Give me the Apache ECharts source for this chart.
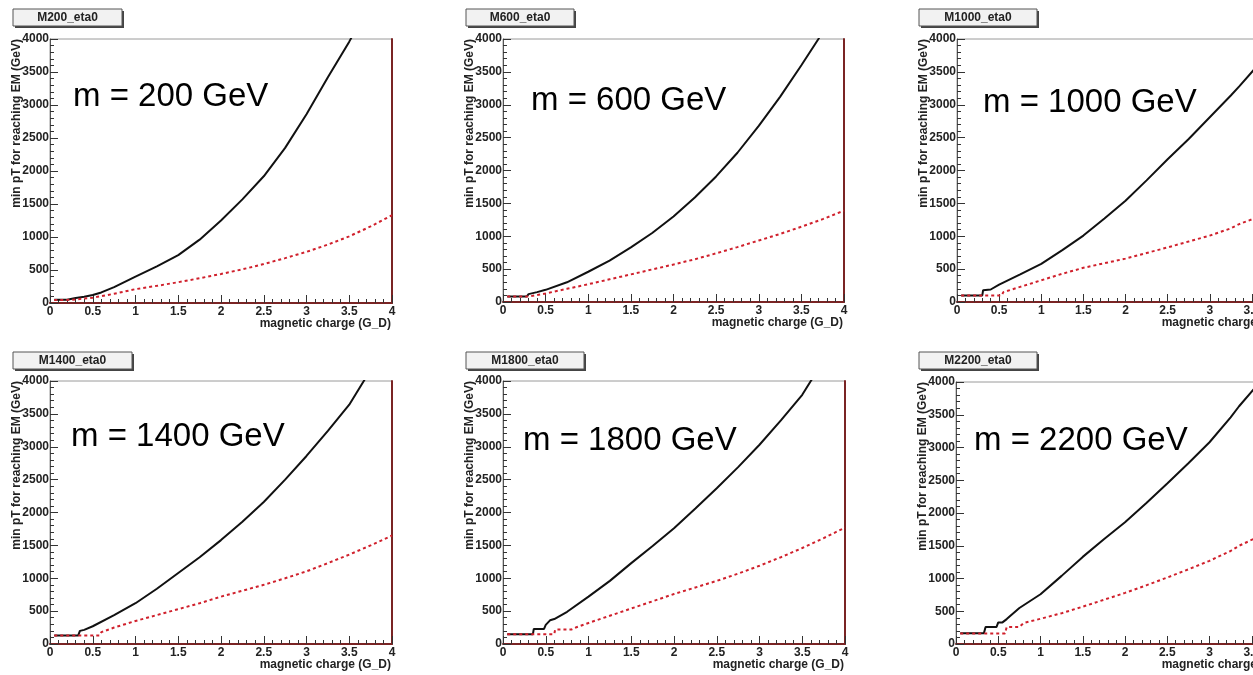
<!DOCTYPE html>
<html>
<head>
<meta charset="utf-8">
<script src="https://cdn.jsdelivr.net/npm/echarts@6/dist/echarts.min.js"></script>
<style>
html,body{margin:0;padding:0;background:#fff;overflow:hidden;width:1253px;height:675px;}
#chart{width:1310px;height:675px;}
</style>
</head>
<body>
<div id="chart"></div>
<script>
// ---- DATA ----
const panelTitles = ['M200_eta0','M600_eta0','M1000_eta0','M1400_eta0','M1800_eta0','M2200_eta0'];
const massLabels = ['m = 200 GeV','m = 600 GeV','m = 1000 GeV','m = 1400 GeV','m = 1800 GeV','m = 2200 GeV'];
const xTickLabels = ['0','0.5','1','1.5','2','2.5','3','3.5','4'];
const yTickLabels = ['0','500','1000','1500','2000','2500','3000','3500','4000'];
const xName = 'magnetic charge (G_D)';
const yName = 'min pT for reaching EM (GeV)';

// black solid curves: [magnetic charge, min pT]
const m200Black = [[0.05,50],[0.2,50],[0.3,75],[0.4,95],[0.5,120],[0.6,160],[0.75,240],[1.0,400],[1.25,555],[1.5,725],[1.75,960],[2.0,1250],[2.25,1570],[2.5,1920],[2.75,2350],[3.0,2860],[3.25,3420],[3.5,3960],[3.6,4200]];
const m600Black = [[0.05,85],[0.28,85],[0.3,120],[0.4,150],[0.5,185],[0.75,300],[1.0,460],[1.25,630],[1.5,830],[1.75,1050],[2.0,1300],[2.25,1590],[2.5,1910],[2.75,2270],[3.0,2680],[3.25,3120],[3.5,3600],[3.7,4000],[3.8,4250]];
const m1000Black = [[0.05,100],[0.3,100],[0.31,180],[0.4,190],[0.5,265],[0.75,420],[1.0,580],[1.25,790],[1.5,1010],[1.75,1270],[2.0,1540],[2.25,1850],[2.5,2170],[2.75,2480],[3.0,2810],[3.25,3140],[3.35,3280],[3.55,3570]];
const m1400Black = [[0.05,130],[0.33,130],[0.35,200],[0.4,215],[0.5,270],[0.75,440],[1.0,620],[1.25,840],[1.5,1080],[1.75,1320],[2.0,1580],[2.25,1860],[2.5,2160],[2.75,2500],[3.0,2860],[3.25,3240],[3.5,3640],[3.67,4000],[3.75,4180]];
const m1800Black = [[0.05,150],[0.35,150],[0.36,230],[0.48,230],[0.5,290],[0.55,360],[0.6,380],[0.75,490],[1.0,720],[1.25,960],[1.5,1230],[1.75,1490],[2.0,1760],[2.25,2060],[2.5,2370],[2.75,2690],[3.0,3030],[3.25,3400],[3.5,3790],[3.6,4000],[3.7,4200]];
const m2200Black = [[0.05,165],[0.33,165],[0.35,260],[0.48,260],[0.5,330],[0.55,330],[0.6,380],[0.75,550],[1.0,760],[1.25,1040],[1.5,1330],[1.75,1600],[2.0,1860],[2.25,2150],[2.5,2450],[2.75,2760],[3.0,3080],[3.25,3460],[3.35,3630],[3.55,3930]];

// red dotted curves
const m200Red = [[0.05,45],[0.25,48],[0.5,80],[0.75,140],[1.0,210],[1.25,260],[1.5,315],[1.75,375],[2.0,440],[2.25,510],[2.5,590],[2.75,680],[3.0,775],[3.25,885],[3.5,1010],[3.75,1160],[4.0,1330]];
const m600Red = [[0.05,85],[0.3,85],[0.35,95],[0.5,130],[0.75,200],[1.0,270],[1.25,345],[1.5,420],[1.75,495],[2.0,570],[2.25,650],[2.5,740],[2.75,835],[3.0,935],[3.25,1035],[3.5,1145],[3.75,1260],[4.0,1390]];
const m1000Red = [[0.05,100],[0.53,100],[0.55,150],[0.75,230],[1.0,330],[1.25,430],[1.5,520],[1.75,590],[2.0,660],[2.25,745],[2.5,830],[2.75,920],[3.0,1010],[3.25,1120],[3.35,1185],[3.55,1280]];
const m1400Red = [[0.05,130],[0.58,130],[0.6,180],[0.75,250],[1.0,350],[1.25,440],[1.5,530],[1.75,620],[2.0,720],[2.25,810],[2.5,900],[2.75,1000],[3.0,1105],[3.25,1230],[3.5,1360],[3.75,1500],[4.0,1650]];
const m1800Red = [[0.05,150],[0.6,150],[0.61,220],[0.8,220],[0.85,250],[1.0,320],[1.25,430],[1.5,540],[1.75,650],[2.0,760],[2.25,860],[2.5,960],[2.75,1070],[3.0,1190],[3.25,1320],[3.5,1460],[3.75,1610],[4.0,1770]];
const m2200Red = [[0.05,160],[0.58,160],[0.6,260],[0.75,260],[0.8,320],[1.0,385],[1.25,470],[1.5,570],[1.75,675],[2.0,780],[2.25,895],[2.5,1015],[2.75,1140],[3.0,1270],[3.25,1420],[3.35,1500],[3.55,1620]];

const blackSeries = [m200Black,m600Black,m1000Black,m1400Black,m1800Black,m2200Black];
const redSeries = [m200Red,m600Red,m1000Red,m1400Red,m1800Red,m2200Red];

// ---- LAYOUT ----
const FONT = '"Liberation Sans", Arial, Helvetica, sans-serif';
const grids = [
  {left:50, top:39, width:342, height:264},
  {left:503, top:39, width:341, height:263},
  {left:957, top:39, width:337, height:263},
  {left:50, top:381, width:342, height:263},
  {left:503, top:381, width:342, height:263},
  {left:956, top:382, width:338, height:262}
];
const titleBoxes = [
  {x:13, y:9, w:109}, {x:466, y:9, w:108}, {x:919, y:9, w:118},
  {x:13, y:352, w:119}, {x:466, y:352, w:118}, {x:919, y:352, w:118}
];
const bigTextPos = [[73,97],[531,101],[983,103],[71,437],[523,441],[974,441]];

const chart = echarts.init(document.getElementById('chart'), null, {renderer:'canvas', width:1310, height:675});

const option = {
  backgroundColor:'#ffffff',
  animation:false,
  grid:[], xAxis:[], yAxis:[], series:[], graphic:[]
};

grids.forEach((g,i)=>{
  option.grid.push({left:g.left, top:g.top, width:g.width, height:g.height,
    show:true, borderColor:'#9a9a9a', borderWidth:1, backgroundColor:'#fff', containLabel:false});
  option.xAxis.push({
    gridIndex:i, type:'value', min:0, max:4, interval:0.5,
    axisLine:{show:true, onZero:false, lineStyle:{color:'#7a2424', width:2}},
    axisTick:{show:true, inside:true, length:8, lineStyle:{color:'#333', width:1}},
    minorTick:{show:true, splitNumber:5, length:4, lineStyle:{color:'#333', width:1}},
    axisLabel:{color:'#222', fontSize:12, fontWeight:'bold', fontFamily:FONT, margin:3,
      formatter:(v)=>xTickLabels[Math.round(v*2)]},
    splitLine:{show:false}, minorSplitLine:{show:false}
  });
  option.yAxis.push({
    gridIndex:i, type:'value', min:0, max:4000, interval:500,
    axisLine:{show:true, onZero:false, lineStyle:{color:'#555', width:1}},
    axisTick:{show:true, inside:true, length:8, lineStyle:{color:'#333', width:1}},
    minorTick:{show:true, splitNumber:5, length:4, lineStyle:{color:'#333', width:1}},
    axisLabel:{color:'#222', fontSize:12, fontWeight:'bold', fontFamily:FONT, margin:1,
      formatter:(v)=>yTickLabels[Math.round(v/500)]},
    splitLine:{show:false}
  });
  option.yAxis.push({
    gridIndex:i, type:'value', min:0, max:4000, position:'right',
    axisLine:{show:true, onZero:false, lineStyle:{color:'#7a2424', width:2}},
    axisTick:{show:false}, axisLabel:{show:false}, splitLine:{show:false}
  });
  option.series.push({
    type:'line', xAxisIndex:i, yAxisIndex:2*i, data:blackSeries[i],
    showSymbol:false, symbol:'none', clip:true, z:3,
    lineStyle:{color:'#111', width:2}
  });
  option.series.push({
    type:'line', xAxisIndex:i, yAxisIndex:2*i, data:redSeries[i],
    showSymbol:false, symbol:'none', clip:true, z:4,
    lineStyle:{color:'#d0202c', width:2, type:[3,3]}
  });

  // title box with shadow
  const tb = titleBoxes[i];
  option.graphic.push({type:'rect', shape:{x:tb.x+2, y:tb.y+2, width:tb.w, height:17},
    style:{fill:'#444'}, z:10});
  option.graphic.push({type:'rect', shape:{x:tb.x, y:tb.y, width:tb.w, height:17},
    style:{fill:'#f2f2f2', stroke:'#555', lineWidth:1}, z:11});
  option.graphic.push({type:'text', x:tb.x+tb.w/2, y:tb.y+9, z:12,
    style:{text:panelTitles[i], fill:'#222', font:'bold 12px '+FONT, textAlign:'center', textVerticalAlign:'middle'}});

  // axis names
  option.graphic.push({type:'text', x:g.left-33, y:g.top, rotation:Math.PI/2, z:12,
    style:{text:yName, fill:'#222', font:'bold 12px '+FONT, textAlign:'right', textVerticalAlign:'middle'}});
  option.graphic.push({type:'text', x:g.left+g.width-1, y:g.top+g.height+21, z:12,
    style:{text:xName, fill:'#222', font:'bold 12px '+FONT, textAlign:'right', textVerticalAlign:'middle'}});

  // mass label
  const bp = bigTextPos[i];
  option.graphic.push({type:'text', x:bp[0], y:bp[1], z:12,
    style:{text:massLabels[i], fill:'#000', font:'33px '+FONT, textAlign:'left', textVerticalAlign:'middle'}});
});

chart.setOption(option);
</script>
</body>
</html>
